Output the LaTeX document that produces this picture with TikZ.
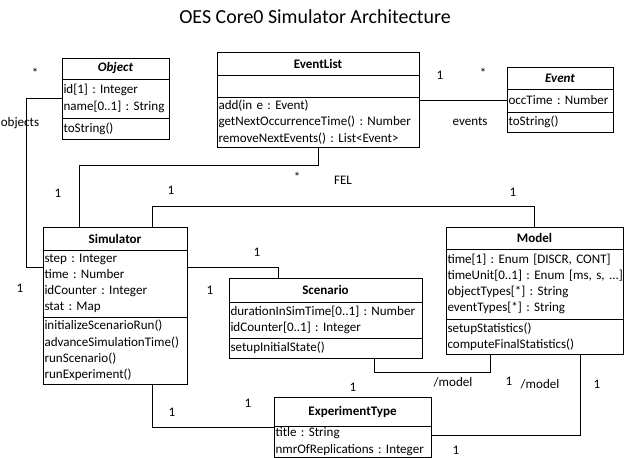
\documentclass[tikz,border=0pt]{standalone}
\usepackage{fontspec}
\setmainfont{Carlito}
\usetikzlibrary{positioning}
\frenchspacing

\tikzset{
  umlhead/.style={draw, line width=0.8bp, outer sep=0pt, anchor=north west, inner sep=0pt,
    font=\fontsize{13.1}{16}\selectfont\bfseries},
  umlpart/.style={draw, line width=0.8bp, outer sep=0pt, inner xsep=1.5bp, inner ysep=0pt,
    align=left, font=\fontsize{13.1}{16.3}\selectfont},
  lbl/.style={inner sep=0pt, font=\fontsize{13.1}{16}\selectfont},
  assoc/.style={line width=0.8bp},
}

\begin{document}
\begin{tikzpicture}[x=1bp, y=-1bp]
\useasboundingbox (0,0) rectangle (624,458);

\node[font=\fontsize{20}{24}\selectfont] (title) at (315,17) {OES Core0 Simulator Architecture};

% classes
\node[umlhead, minimum width=107bp, minimum height=21bp, font=\fontsize{13.1}{16}\selectfont\bfseries\itshape] (objh) at (62,58) {Object};
\node[umlpart, text width=104bp, minimum height=39bp, below=0pt of objh] (obja) {id[1] : Integer\\name[0..1]~:~String};
\node[umlpart, text width=104bp, minimum height=21bp, below=0pt of obja] (objo) {toString()};

\node[umlhead, minimum width=202bp, minimum height=23bp] (elh) at (217,52) {EventList};
\node[umlpart, text width=199bp, minimum height=22bp, below=0pt of elh] (ela) {};
\node[umlpart, text width=199bp, minimum height=50bp, below=0pt of ela] (elo) {add(in e : Event)\\getNextOccurrenceTime()~:~Number\\removeNextEvents()~:~List<Event>};

\node[umlhead, minimum width=106bp, minimum height=22bp, font=\fontsize{13.1}{16}\selectfont\bfseries\itshape] (evh) at (507,67) {Event};
\node[umlpart, text width=103bp, minimum height=23bp, below=0pt of evh] (eva) {occTime~:~Number};
\node[umlpart, text width=103bp, minimum height=20bp, below=0pt of eva] (evo) {toString()};

\node[umlhead, minimum width=144bp, minimum height=23bp] (simh) at (43,227) {Simulator};
\node[umlpart, text width=141bp, minimum height=67bp, below=0pt of simh] (sima) {step : Integer\\time : Number\\idCounter : Integer\\stat : Map};
\node[umlpart, text width=141bp, minimum height=67bp, below=0pt of sima] (simo) {initializeScenarioRun()\\advanceSimulationTime()\\runScenario()\\runExperiment()};

\node[umlhead, minimum width=193bp, minimum height=24bp] (sch) at (229,278) {Scenario};
\node[umlpart, text width=190bp, minimum height=36bp, below=0pt of sch] (sca) {durationInSimTime[0..1]~:~Number\\idCounter[0..1] : Integer};
\node[umlpart, text width=190bp, minimum height=20bp, below=0pt of sca] (sco) {setupInitialState()};

\node[umlhead, minimum width=177bp, minimum height=22bp] (modh) at (446,227) {Model};
\node[umlpart, text width=174bp, minimum height=70bp, below=0pt of modh] (moda) {time[1]~:~Enum~[DISCR,~CONT]\\timeUnit[0..1]~:~Enum~[ms,~s,~...]\\objectTypes[*] : String\\eventTypes[*] : String};
\node[umlpart, text width=174bp, minimum height=35bp, below=0pt of moda] (modo) {setupStatistics()\\computeFinalStatistics()};

\node[umlhead, minimum width=157bp, minimum height=29bp] (eth) at (274,397) {ExperimentType};
\node[umlpart, text width=154bp, minimum height=31bp, below=0pt of eth] (eta) {title : String\\nmrOfReplications~:~Integer};

% associations
\coordinate (objbend) at (26,267);
\draw[assoc] (obja.west) -| (objbend) -- (objbend -| sima.west);

\coordinate (felbend) at (79,165);
\draw[assoc] (elo.south) |- (felbend) -- (felbend |- simh.north);

\draw[assoc] (eva.west) -- (eva.west -| elo.east);

\coordinate (mdlbend) at (152,206);
\draw[assoc] (mdlbend |- simh.north) -- (mdlbend) -| (modh.north);

\coordinate (scnbend) at (278,267);
\draw[assoc] (scnbend -| sima.east) -- (scnbend) -- (scnbend |- sch.north);

\coordinate (smA) at (374,372);
\coordinate (smB) at (490,372);
\draw[assoc] (smA |- sco.south) -- (smA) -- (smB) -- (smB |- modo.south);

\coordinate (metbend) at (580,435);
\draw[assoc] (metbend |- modo.south) -- (metbend) -- (metbend -| eta.east);

\coordinate (setbend) at (152,427);
\draw[assoc] (setbend |- simo.south) -- (setbend) -- (setbend -| eta.west);

% multiplicities and roles
\node[lbl] (objmult) at (35,73) {*};
\node[lbl] (objrole) at (20,123) {objects};
\node[lbl] (simobjmult) at (20,288) {1};
\node[lbl] (simfelmult) at (58,193) {1};
\node[lbl] (felmult) at (297,177) {*};
\node[lbl] (felrole) at (343,180) {FEL};
\node[lbl] (simmdlmult) at (171,190) {1};
\node[lbl] (mdlsimmult) at (513,192) {1};
\node[lbl] (elevmult) at (440,75) {1};
\node[lbl] (evmult) at (483,73) {*};
\node[lbl] (evrole) at (470,121) {events};
\node[lbl] (simscnmult) at (257,252) {1};
\node[lbl] (scnsimmult) at (210,290) {1};
\node[lbl] (scnmdlmult) at (353,387) {1};
\node[lbl] (scnmdlrole) at (453,382) {/model};
\node[lbl] (etmdlmult) at (509,381) {1};
\node[lbl] (etmdlrole) at (540,384) {/model};
\node[lbl] (mdletmult) at (597,384) {1};
\node[lbl] (simetmult) at (172,412) {1};
\node[lbl] (etsimmult) at (248,403) {1};
\node[lbl] (etmult) at (456,450) {1};
\end{tikzpicture}
\end{document}
